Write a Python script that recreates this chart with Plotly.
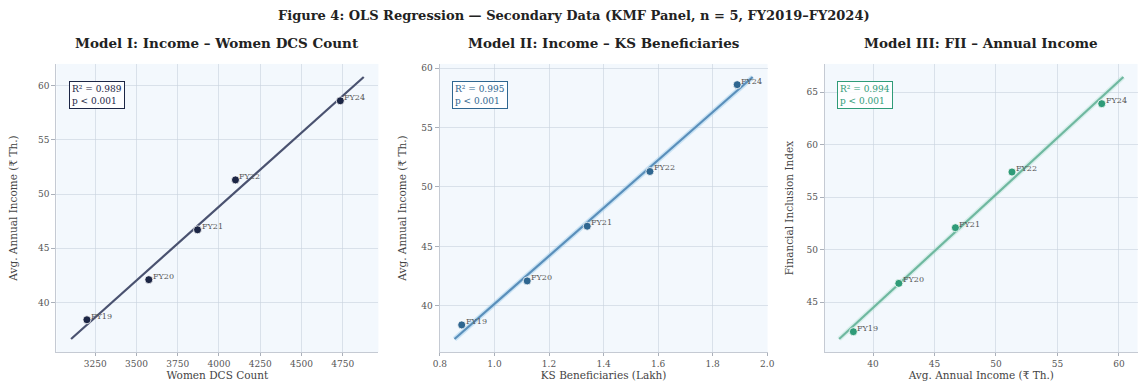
import numpy as np
import plotly.graph_objects as go

years = ["FY19", "FY20", "FY21", "FY22", "FY24"]
women_dcs = [3200, 3575, 3870, 4100, 4735]
ks_benef = [0.88, 1.12, 1.34, 1.57, 1.89]
income = [38.4, 42.1, 46.7, 51.3, 58.6]
fii = [42.2, 46.8, 52.1, 57.4, 63.9]
r2_vals = ["0.989", "0.995", "0.994"]

titles = ["Model I: Income – Women DCS Count",
          "Model II: Income – KS Beneficiaries",
          "Model III: FII – Annual Income"]
xlabels = ["Women DCS Count", "KS Beneficiaries (Lakh)", "Avg. Annual Income (₹ Th.)"]
ylabels = ["Avg. Annual Income (₹ Th.)", "Avg. Annual Income (₹ Th.)", "Financial Inclusion Index"]
marker_colors = ["#1c2645", "#2f6690", "#2f9b78"]
line_colors = ["#4a5270", "#5a8fbb", "#6fb8a0"]
halo_colors = ["rgba(77,86,112,0)", "rgba(160,205,235,0.5)", "rgba(160,220,200,0.3)"]
x_ticks = [[3250, 3500, 3750, 4000, 4250, 4500, 4750],
           [0.8, 1.0, 1.2, 1.4, 1.6, 1.8, 2.0],
           [40, 45, 50, 55, 60]]
x_ticktext = [None, ["0.8", "1.0", "1.2", "1.4", "1.6", "1.8", "2.0"], None]
y_ticks = [[40, 45, 50, 55, 60], [40, 45, 50, 55, 60], [45, 50, 55, 60, 65]]

xdoms = [(0.0436, 0.3275), (0.3815, 0.6707), (0.7213, 0.997)]
ydom = (0.0904, 0.837)
ystandoff = [18, 12, 10]

datasets = [(women_dcs, income), (ks_benef, income), (income, fii)]
FONT = "DejaVu Serif"

fig = go.Figure()
layout = dict()
annotations = []
for i, (xs, ys) in enumerate(datasets):
    xs = np.array(xs, float)
    ys = np.array(ys, float)
    b, a = np.polyfit(xs, ys, 1)
    lx = np.array([xs.min() * 0.97, xs.max() * 1.03])
    ly = a + b * lx
    ax = "" if i == 0 else str(i + 1)
    xref, yref = "x" + ax, "y" + ax
    fig.add_trace(go.Scatter(x=lx, y=ly, mode="lines", xaxis=xref, yaxis=yref,
                             line=dict(color=halo_colors[i], width=5), showlegend=False, hoverinfo="skip"))
    fig.add_trace(go.Scatter(x=lx, y=ly, mode="lines", xaxis=xref, yaxis=yref,
                             line=dict(color=line_colors[i], width=2.2), showlegend=False))
    fig.add_trace(go.Scatter(x=xs, y=ys, mode="markers", xaxis=xref, yaxis=yref,
                             marker=dict(color=marker_colors[i], size=8,
                                         line=dict(color="white", width=0.8)),
                             showlegend=False))
    allx = np.concatenate([xs, lx]); ally = np.concatenate([ys, ly])
    px = (allx.max() - allx.min()) * 0.05
    py = (ally.max() - ally.min()) * 0.05
    grid = "rgba(200,210,222,0.6)"
    layout["xaxis" + ax] = dict(domain=list(xdoms[i]), anchor=yref,
                                range=[allx.min() - px, allx.max() + px],
                                tickvals=x_ticks[i], ticktext=x_ticktext[i],
                                showgrid=True, gridcolor=grid, gridwidth=1,
                                showline=True, linecolor="#c5cad3", linewidth=1.2,
                                ticks="outside", ticklen=3, tickcolor="#aab0ba",
                                tickfont=dict(family=FONT, size=9, color="#555"),
                                title=dict(text=xlabels[i], font=dict(family=FONT, size=10.5, color="#444"),
                                           standoff=1),
                                zeroline=False, mirror=False)
    layout["yaxis" + ax] = dict(domain=list(ydom), anchor=xref,
                                range=[ally.min() - py, ally.max() + py],
                                tickvals=y_ticks[i],
                                showgrid=True, gridcolor=grid, gridwidth=1,
                                showline=True, linecolor="#c5cad3", linewidth=1.2,
                                ticks="outside", ticklen=4, tickcolor="#aab0ba",
                                tickfont=dict(family=FONT, size=9, color="#555"),
                                title=dict(text=ylabels[i], font=dict(family=FONT, size=10.5, color="#444"),
                                           standoff=ystandoff[i]),
                                zeroline=False)
    for xv, yv, lab in zip(xs, ys, years):
        annotations.append(dict(x=xv, y=yv, xref=xref, yref=yref, text=lab, showarrow=False,
                                xanchor="left", yanchor="bottom", xshift=2, yshift=-3,
                                font=dict(family=FONT, size=8, color="#555")))
    annotations.append(dict(x=xdoms[i][0] + 0.011, y=ydom[1] - 0.045, xref="paper", yref="paper",
                            text="R² = " + r2_vals[i] + "<br>p < 0.001", showarrow=False,
                            xanchor="left", yanchor="top", align="left",
                            font=dict(family=FONT, size=9, color=marker_colors[i]),
                            bordercolor=marker_colors[i], borderwidth=1, borderpad=2,
                            bgcolor="rgba(255,255,255,0.85)"))
    annotations.append(dict(x=(xdoms[i][0] + xdoms[i][1]) / 2, y=ydom[1] + 0.028, xref="paper", yref="paper",
                            text="<b>" + titles[i] + "</b>", showarrow=False,
                            xanchor="center", yanchor="bottom",
                            font=dict(family=FONT, size=13.5, color="#222")))

annotations.append(dict(x=0.5, y=1 - 15 / 387, xref="paper", yref="paper",
                        text="<b>Figure 4: OLS Regression — Secondary Data (KMF Panel, n = 5, FY2019–FY2024)</b>",
                        showarrow=False, xanchor="center", yanchor="middle",
                        font=dict(family=FONT, size=13, color="#222")))

fig.update_layout(**layout)
fig.update_layout(width=1148, height=387, margin=dict(l=0, r=0, t=0, b=0),
                  paper_bgcolor="white", plot_bgcolor="#f3f8fd",
                  annotations=annotations, font=dict(family=FONT))
fig.write_html("out.html")
